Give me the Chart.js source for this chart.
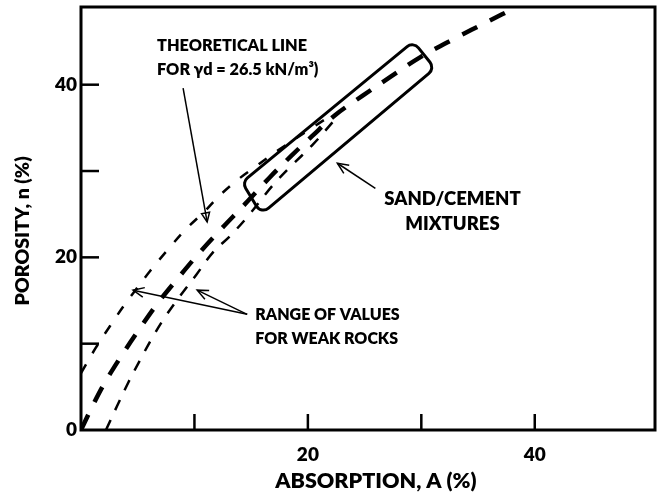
<!DOCTYPE html>
<html>
<head>
<meta charset="utf-8">
<script src="https://cdn.jsdelivr.net/npm/chart.js@4.4.1/dist/chart.umd.min.js"></script>
<style>
  html, body { margin: 0; padding: 0; background: #fff; }
  canvas { display: block; }
</style>
</head>
<body>
<canvas id="chart" width="661" height="498"></canvas>
<script>
// Theoretical line for yd = 26.5 kN/m3 : absorption A (%) vs porosity n (%)
const theoryA = [0, 0.97, 2.03, 3.44, 5.03, 6.71, 8.56, 10.5, 12.44, 14.47, 16.59, 18.53, 20.39, 22.42, 24.8, 27.27, 29.92, 33.01, 35.84, 38.4];
const theoryN = [0, 2.67, 5.33, 8.34, 11.47, 14.6, 17.61, 20.63, 23.4, 26.19, 29.2, 31.75, 34.07, 36.5, 38.7, 40.9, 43.2, 45.4, 47.3, 49.0];

// Range of values for weak rocks: upper bound
const upperA = [0, 1.24, 2.56, 3.88, 4.68, 6.09, 7.86, 9.27, 10.94, 12.09, 13.68, 15.36, 17.3, 19.95, 21.98];
const upperN = [6.6, 9.39, 12.05, 14.6, 15.99, 18.42, 21.21, 23.29, 25.38, 27.0, 28.85, 30.48, 32.33, 34.65, 36.38];

// Range of values for weak rocks: lower bound
const lowerA = [2.2, 3.18, 4.15, 5.21, 6.27, 7.41, 8.74, 10.15, 11.65, 13.15, 14.74, 16.86, 18.45, 20.39, 22.51];
const lowerN = [0, 2.78, 5.45, 8.11, 10.66, 13.09, 15.53, 17.96, 20.6, 22.48, 24.8, 28.27, 30.48, 33.0, 36.15];

// Sand/cement mixtures envelope (corners, A %, n %)
const mixA = [14.2, 29.3, 31.2, 15.9];
const mixN = [28.7, 45.0, 41.9, 25.0];

// Axis ticks
const xTickValues = [0, 10, 20, 30, 40];
const xTickLabels = ['', '', '20', '', '40'];
const yTickValues = [0, 10, 20, 30, 40];
const yTickLabels = ['0', '', '20', '', '40'];

const xTitle = 'ABSORPTION, A (%)';
const yTitle = 'POROSITY, n (%)';

const pts = (xs, ys) => xs.map((v, i) => ({ x: v, y: ys[i] }));

const FONT = 'Lato, "Open Sans", "Liberation Sans", sans-serif';
const W = '800';
const INK = '#000';

function arrow(ctx, x1, y1, x2, y2, head, closed) {
  ctx.beginPath();
  ctx.moveTo(x1, y1);
  ctx.lineTo(x2, y2);
  ctx.stroke();
  const ang = Math.atan2(y2 - y1, x2 - x1);
  const spread = 0.42;
  const ax = x2 - head * Math.cos(ang - spread), ay = y2 - head * Math.sin(ang - spread);
  const bx = x2 - head * Math.cos(ang + spread), by = y2 - head * Math.sin(ang + spread);
  ctx.beginPath();
  ctx.moveTo(ax, ay);
  ctx.lineTo(x2, y2);
  ctx.lineTo(bx, by);
  if (closed) ctx.closePath();
  ctx.stroke();
}

function roundedPolygon(ctx, p, r) {
  const n = p.length;
  const mid = (a, b) => [(a[0] + b[0]) / 2, (a[1] + b[1]) / 2];
  const s = mid(p[n - 1], p[0]);
  ctx.beginPath();
  ctx.moveTo(s[0], s[1]);
  for (let i = 0; i < n; i++) {
    const m = mid(p[i], p[(i + 1) % n]);
    ctx.arcTo(p[i][0], p[i][1], m[0], m[1], r);
  }
  ctx.closePath();
}

const annotations = {
  id: 'annotations',
  afterDraw(chart) {
    const { ctx, chartArea: a, scales: { x, y } } = chart;
    const P = (A, n) => [x.getPixelForValue(A), y.getPixelForValue(n)];
    ctx.save();

    // frame
    ctx.strokeStyle = INK;
    ctx.lineWidth = 3;
    ctx.strokeRect(a.left, a.top, a.right - a.left, a.bottom - a.top);

    // inward tick marks
    ctx.lineWidth = 2.5;
    xTickValues.forEach(v => {
      if (v <= x.min) return;
      const px = x.getPixelForValue(v);
      ctx.beginPath(); ctx.moveTo(px, a.bottom); ctx.lineTo(px, a.bottom - 16); ctx.stroke();
    });
    yTickValues.forEach(v => {
      if (v <= y.min) return;
      const py = y.getPixelForValue(v);
      ctx.beginPath(); ctx.moveTo(a.left, py); ctx.lineTo(a.left + 18, py); ctx.stroke();
    });

    // sand/cement envelope
    ctx.lineWidth = 3;
    roundedPolygon(ctx, mixA.map((v, i) => P(v, mixN[i])), 8);
    ctx.stroke();

    // pointer arrows
    ctx.lineWidth = 1.5;
    let s, e;
    s = P(9.0, 39.6); e = P(11.12, 24.1);
    arrow(ctx, s[0], s[1], e[0], e[1], 10, true);
    s = P(25.95, 28.0); e = P(22.6, 30.9);
    arrow(ctx, s[0], s[1], e[0], e[1], 12, false);
    s = P(14.65, 13.4); e = P(4.59, 16.2);
    arrow(ctx, s[0], s[1], e[0], e[1], 12, false);
    e = P(10.24, 16.2);
    arrow(ctx, s[0], s[1], e[0], e[1], 12, false);

    // notes
    ctx.fillStyle = INK;
    ctx.textBaseline = 'middle';
    ctx.textAlign = 'left';
    ctx.font = W + ' 16.3px ' + FONT;
    let t = P(6.7, 44.5);
    ctx.fillText('THEORETICAL LINE', t[0], t[1]);
    t = P(6.7, 41.7);
    ctx.fillText('FOR \u03B3d = 26.5 kN/m\u00B3)', t[0], t[1]);

    ctx.font = W + ' 16px ' + FONT;
    t = P(15.36, 13.3);
    ctx.fillText('RANGE OF VALUES', t[0], t[1]);
    t = P(15.36, 10.6);
    ctx.fillText('FOR WEAK ROCKS', t[0], t[1]);

    ctx.textAlign = 'center';
    ctx.font = W + ' 18.5px ' + FONT;
    t = P(32.75, 26.8);
    ctx.fillText('SAND/CEMENT', t[0], t[1]);
    t = P(32.75, 23.9);
    ctx.fillText('MIXTURES', t[0], t[1]);

    // axis titles
    ctx.font = W + ' 21.5px ' + FONT;
    ctx.fillText(xTitle, x.getPixelForValue(26.0), a.bottom + 51);
    ctx.font = W + ' 19.5px ' + FONT;
    ctx.translate(23, y.getPixelForValue(23.06));
    ctx.rotate(-Math.PI / 2);
    ctx.fillText(yTitle, 0, 0);

    ctx.restore();
  }
};

Chart.defaults.font.family = FONT;
Chart.defaults.color = INK;

new Chart(document.getElementById('chart'), {
  type: 'scatter',
  data: {
    datasets: [
      {
        label: 'Theoretical line',
        data: pts(theoryA, theoryN),
        showLine: true,
        borderColor: INK,
        borderWidth: 4.5,
        borderDash: [17, 14],
        borderCapStyle: 'butt',
        pointRadius: 0,
        tension: 0.35
      },
      {
        label: 'Weak rocks, upper',
        data: pts(upperA, upperN),
        showLine: true,
        borderColor: INK,
        borderWidth: 2.5,
        borderDash: [10, 13],
        pointRadius: 0,
        tension: 0.35
      },
      {
        label: 'Weak rocks, lower',
        data: pts(lowerA, lowerN),
        showLine: true,
        borderColor: INK,
        borderWidth: 2.5,
        borderDash: [11, 11],
        pointRadius: 0,
        tension: 0.35
      }
    ]
  },
  options: {
    responsive: false,
    animation: false,
    devicePixelRatio: 1,
    layout: { padding: { top: 7, right: 6, left: 0, bottom: 0 } },
    plugins: { legend: { display: false }, tooltip: { enabled: false } },
    scales: {
      x: {
        type: 'linear',
        min: 0,
        max: 50.6,
        afterBuildTicks: s => { s.ticks = xTickValues.map(v => ({ value: v })); },
        afterFit: s => { s.height = 68; s.paddingLeft = 0; s.paddingRight = 0; },
        grid: { display: false, drawTicks: false },
        border: { display: false },
        ticks: {
          padding: 13,
          maxRotation: 0,
          autoSkip: false,
          font: { size: 19, weight: W },
          callback: v => xTickLabels[xTickValues.indexOf(v)] ?? ''
        }
      },
      y: {
        type: 'linear',
        min: 0,
        max: 49,
        afterBuildTicks: s => { s.ticks = yTickValues.map(v => ({ value: v })); },
        afterFit: s => { s.width = 81; s.paddingTop = 0; s.paddingBottom = 0; },
        grid: { display: false, drawTicks: false },
        border: { display: false },
        ticks: {
          padding: 4,
          autoSkip: false,
          font: { size: 19, weight: W },
          callback: v => yTickLabels[yTickValues.indexOf(v)] ?? ''
        }
      }
    }
  },
  plugins: [annotations]
});
</script>
</body>
</html>
